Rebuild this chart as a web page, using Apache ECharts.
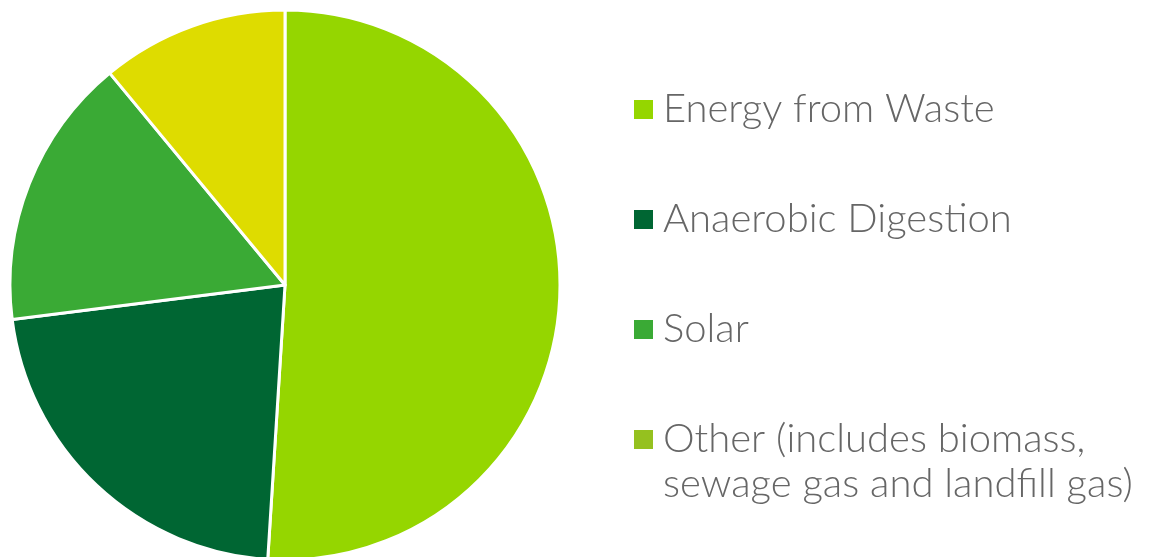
<!DOCTYPE html>
<html>
<head>
<meta charset="utf-8">
<script src="https://cdn.jsdelivr.net/npm/echarts@6/dist/echarts.min.js"></script>
<style>html,body{margin:0;padding:0;background:#fff;}#c{width:1154px;height:557px;}</style>
</head>
<body>
<div id="c"></div>
<script>
const categories = ['Energy from Waste', 'Anaerobic Digestion', 'Solar', 'Other (includes biomass,\nsewage gas and landfill gas)'];
const values = [51, 22, 16, 11];
const sliceColors = ['#95d600', '#006633', '#3aaa35', '#dedc00'];
const legendColors = ['#95d600', '#006633', '#3aaa35', '#95c11f'];

const chart = echarts.init(document.getElementById('c'));
const textBase = { fontFamily: 'Lato', fontWeight: 300, fontSize: 40, color: '#666666', lineHeight: 45, padding: [0, 0, 0, 4] };
chart.setOption({
  animation: false,
  legend: [
    {
      orient: 'vertical', left: 632, top: 87, padding: 0,
      itemWidth: 21, itemHeight: 21, itemGap: 65, icon: 'rect',
      selectedMode: false,
      textStyle: textBase,
      data: categories.slice(0, 3).map((n, i) => ({ name: n, itemStyle: { color: legendColors[i] } }))
    },
    {
      orient: 'vertical', left: 632, top: 372, padding: 0,
      itemWidth: 21, itemHeight: 21, icon: 'rect',
      selectedMode: false,
      textStyle: textBase,
      formatter: name => '\n' + name,
      data: [{ name: categories[3], itemStyle: { color: legendColors[3] } }]
    }
  ],
  series: [{
    type: 'pie',
    center: [285, 285],
    radius: 275,
    startAngle: 90,
    clockwise: true,
    label: { show: false },
    labelLine: { show: false },
    itemStyle: { borderColor: '#ffffff', borderWidth: 3 },
    emphasis: { disabled: true },
    data: categories.map((n, i) => ({ name: n, value: values[i], itemStyle: { color: sliceColors[i] } }))
  }]
});
</script>
</body>
</html>
